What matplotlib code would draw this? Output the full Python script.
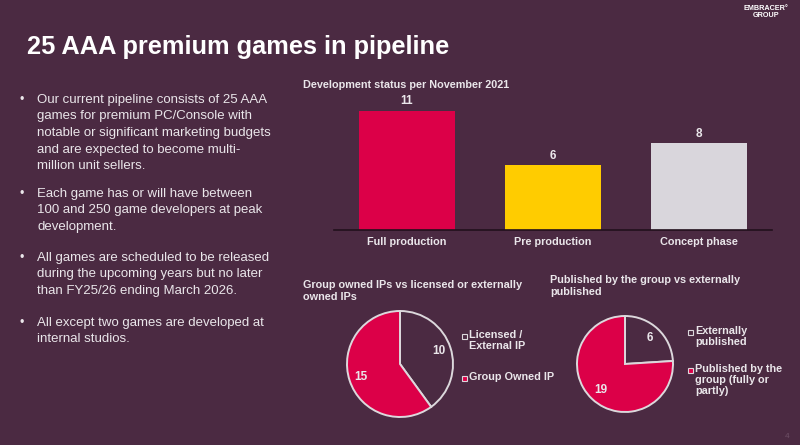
import matplotlib
matplotlib.use("Agg")
import matplotlib.pyplot as plt
from matplotlib.patches import Rectangle

plt.rcParams['font.family'] = ['Liberation Sans', 'DejaVu Sans']

# ---------------- data ----------------
title = "25 AAA premium games in pipeline"
bullets = [
    "Our current pipeline consists of 25 AAA\ngames for premium PC/Console with\nnotable or significant marketing budgets\nand are expected to become multi-\nmillion unit sellers.",
    "Each game has or will have between\n100 and 250 game developers at peak\ndevelopment.",
    "All games are scheduled to be released\nduring the upcoming years but no later\nthan FY25/26 ending March 2026.",
    "All except two games are developed at\ninternal studios.",
]
bar_title = "Development status per November 2021"
bar_categories = ["Full production", "Pre production", "Concept phase"]
bar_values = [11, 6, 8]

pie1_title = "Group owned IPs vs licensed or externally\nowned IPs"
pie1_labels = ["Licensed /\nExternal IP", "Group Owned IP"]
pie1_values = [10, 15]

pie2_title = "Published by the group vs externally\npublished"
pie2_labels = ["Externally\npublished", "Published by the\ngroup (fully or\npartly)"]
pie2_values = [6, 19]

# ---------------- style ----------------
BG = "#4B2A42"
RED = "#DC0048"
YEL = "#FFCC00"
GRY = "#D9D6DC"
TXT = "#EAE6EA"
EDGE = "#DCD8DC"

W, H = 800, 445
fig = plt.figure(figsize=(8, 4.45), dpi=100, facecolor=BG)


def fx(x):
    return x / W


def fy(y):
    return 1 - y / H


def px_axes(x0, y0, x1, y1):
    return fig.add_axes([fx(x0), fy(y1), (x1 - x0) / W, (y1 - y0) / H])


# title & logo
fig.text(fx(27), fy(47), title, color="white", fontsize=18.3, fontweight="bold",
         va="center", ha="left")
fig.text(fx(766), fy(12), "EMBRACER\u00b0\nGROUP", color="white", fontsize=5.2,
         fontweight="bold", va="center", ha="center", linespacing=1.0)
fig.text(fx(787), fy(437), "4", color="#6E5066", fontsize=6, va="center", ha="center")

# bullets
starts = [100, 194, 258, 323]
for y, b in zip(starts, bullets):
    fig.text(fx(20), fy(y), "\u2022", color=TXT, fontsize=9, va="center", ha="left")
    fig.text(fx(37), fy(y - 6), b, color=TXT, fontsize=9.5, va="top", ha="left",
             linespacing=1.5)

# bar chart
fig.text(fx(303), fy(85), bar_title, color=TXT, fontsize=7.8, fontweight="bold",
         va="center", ha="left")
ax = px_axes(334, 100, 772, 230)
ax.set_facecolor(BG)
xs = range(len(bar_values))
bars = ax.bar(xs, bar_values, width=0.66, color=[RED, YEL, GRY])
ax.set_xlim(-0.5, len(bar_values) - 0.5)
ax.set_ylim(0, 12)
for s in ["top", "right", "left"]:
    ax.spines[s].set_visible(False)
ax.spines["bottom"].set_color("#22101C")
ax.spines["bottom"].set_linewidth(1.2)
ax.set_yticks([])
ax.set_xticks(list(xs))
ax.set_xticklabels(bar_categories, color=TXT, fontsize=7.8, fontweight="bold")
ax.tick_params(axis="x", length=0, pad=5)
for b, v in zip(bars, bar_values):
    ax.annotate(str(v), (b.get_x() + b.get_width() / 2, v), xytext=(0, 2.5),
                textcoords="offset points", ha="center", va="bottom",
                color=TXT, fontsize=8.5, fontweight="bold")


def draw_pie(cx, cy, r, values, colors, title_txt, tx, ty, pctd):
    fig.text(fx(tx), fy(ty), title_txt, color=TXT, fontsize=7.8, fontweight="bold",
             va="top", ha="left", linespacing=1.2)
    a = px_axes(cx - r - 2, cy - r - 2, cx + r + 2, cy + r + 2)
    total = sum(values)
    a.pie(values, colors=colors, startangle=90, counterclock=False,
          wedgeprops=dict(edgecolor=EDGE, linewidth=1.4),
          autopct=lambda p: f"{round(p * total / 100)}", pctdistance=pctd,
          textprops=dict(color=TXT, fontsize=8.5, fontweight="bold"))
    lim = 1 + 2 / r
    a.set_xlim(-lim, lim)
    a.set_ylim(-lim, lim)
    a.set_aspect("equal")
    a.axis("off")


def draw_legend(x, ys, labels, colors):
    for y, lab, c in zip(ys, labels, colors):
        fig.patches.append(Rectangle((fx(x), fy(y + 2.5)), 5 / W, 5 / H,
                                     transform=fig.transFigure, facecolor=c,
                                     edgecolor=EDGE, linewidth=0.8))
        fig.text(fx(x + 7), fy(y - 6), lab, color=TXT, fontsize=7.8,
                 fontweight="bold", va="top", ha="left", linespacing=1.15)


draw_pie(400, 364, 53, pie1_values, [BG, RED], pie1_title, 303, 280, 0.77)
draw_legend(462, [336, 378], pie1_labels, [BG, RED])

draw_pie(625, 364, 48, pie2_values, [BG, RED], pie2_title, 550, 275, 0.74)
draw_legend(688, [332, 370], pie2_labels, [BG, RED])

fig.savefig("out.png", dpi=100, facecolor=BG)
